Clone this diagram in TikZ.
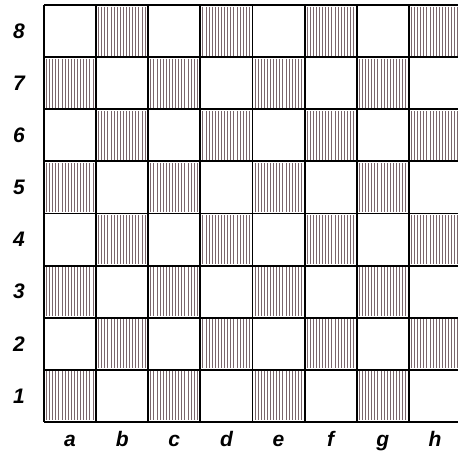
\documentclass[tikz,border=0pt]{standalone}
\usepackage{fontspec}
\setsansfont{Liberation Sans}
\definecolor{hatch}{HTML}{7A666C}

\begin{document}
\begin{tikzpicture}[x=1pt,y=-1pt,
  gridline/.style={line width=1.8pt, black},
  hatchline/.style={hatch, line width=0.9pt},
  coordlabel/.style={font=\fontsize{21}{21}\selectfont\sffamily\bfseries\itshape}]
  \useasboundingbox (0,0) rectangle (458,456);
  \clip (0,0) rectangle (458,456);
  \def\sq{52.125}
  % dark squares
  \foreach \c in {0,...,7}
    \foreach \r in {0,...,7} {
      \pgfmathtruncatemacro\odd{mod(\c+\r,2)}
      \ifnum\odd=1
        \foreach \k in {2.5,5.6,...,50}
          \draw[hatchline] ({44+\c*\sq+\k},{5+\r*\sq+1.5}) -- ++(0,49);
      \fi
    }
  % board lines
  \foreach \i in {0,...,8} {
    \draw[gridline] ({44+\i*\sq},5) -- ({44+\i*\sq},422);
    \draw[gridline] (44,{5+\i*\sq}) -- (461,{5+\i*\sq});
  }
  % ranks and files
  \foreach \n [count=\i] in {8,7,6,5,4,3,2,1}
    \node[coordlabel] (rank\n) at (19,{5+(\i-0.5)*\sq}) {\n};
  \foreach \f [count=\j] in {a,b,c,d,e,f,g,h}
    \node[coordlabel, anchor=base] (file\f) at ({44+(\j-0.5)*\sq},446) {\f};
\end{tikzpicture}
\end{document}
